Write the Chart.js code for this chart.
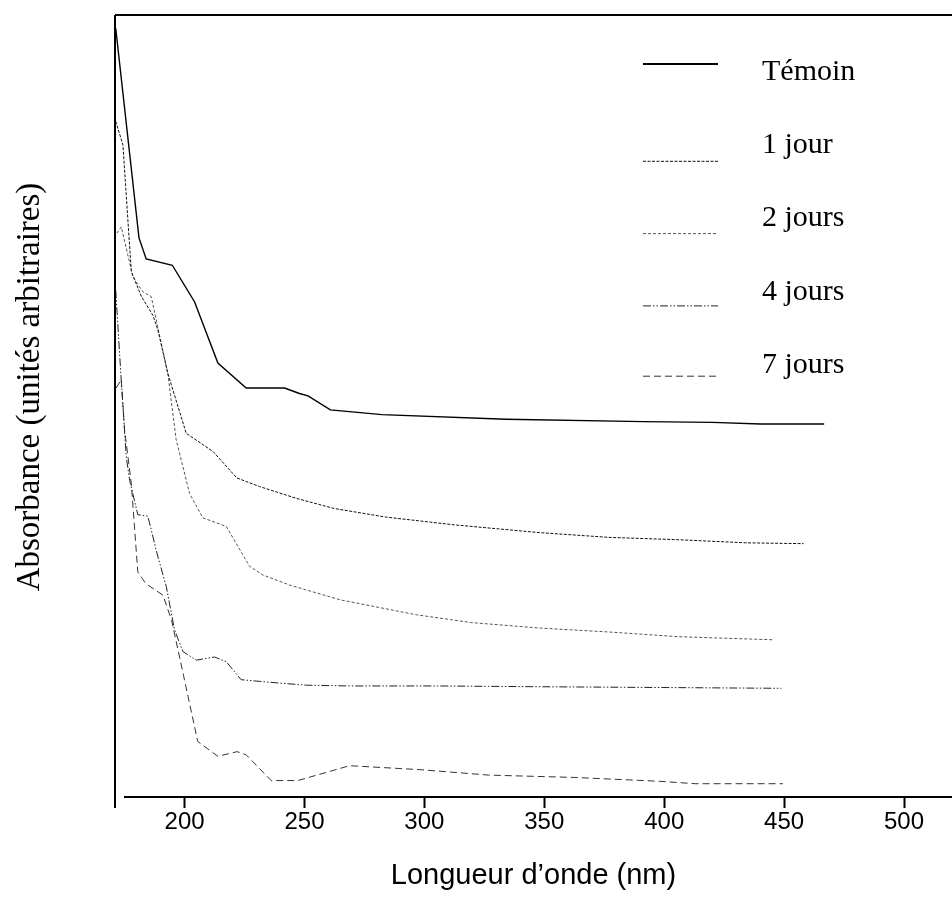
<!DOCTYPE html>
<html lang="fr">
<head>
<meta charset="utf-8">
<title>Absorbance</title>
<script src="https://cdn.jsdelivr.net/npm/chart.js@4.4.1/dist/chart.umd.min.js"></script>
<style>
  html, body { margin: 0; padding: 0; background: #fff; }
  #wrap { position: relative; width: 952px; height: 899px; }
</style>
</head>
<body>
<div id="wrap"><canvas id="spectres"></canvas></div>
<script>
// spectres UV : longueur d'onde (nm) et absorbance (unités arbitraires)
const xTicks = [200, 250, 300, 350, 400, 450, 500];

const temoinNm  = [171.3, 181.0, 184.0, 194.9, 204.2, 213.9, 225.7, 241.7, 247.9, 251.5, 260.8, 282.3, 334.0, 391.4, 420.1, 440.2, 466.7];
const temoinAbs = [0.983, 0.715, 0.688, 0.680, 0.633, 0.555, 0.523, 0.523, 0.516, 0.513, 0.495, 0.489, 0.483, 0.480, 0.479, 0.477, 0.477];

const jour1Nm  = [171.3, 174.3, 177.8, 182.0, 186.8, 188.9, 193.0, 200.7, 211.8, 221.8, 231.3, 246.5, 262.3, 283.8, 312.5, 348.3, 377.0, 405.8, 434.5, 458.1];
const jour1Abs = [0.864, 0.834, 0.672, 0.640, 0.616, 0.597, 0.542, 0.465, 0.442, 0.408, 0.397, 0.382, 0.369, 0.358, 0.348, 0.338, 0.332, 0.329, 0.325, 0.324];

const jour2Nm  = [171.8, 173.6, 178.5, 182.6, 186.1, 188.9, 193.0, 196.5, 202.1, 207.6, 217.4, 227.1, 232.6, 243.8, 265.1, 296.7, 319.7, 348.3, 377.0, 405.8, 445.9];
const jour2Abs = [0.721, 0.729, 0.665, 0.646, 0.640, 0.600, 0.542, 0.457, 0.388, 0.357, 0.346, 0.295, 0.284, 0.271, 0.252, 0.233, 0.223, 0.216, 0.211, 0.205, 0.201];

const jour4Nm  = [171.3, 173.6, 175.7, 177.1, 180.5, 184.7, 188.9, 192.4, 195.8, 199.3, 204.9, 212.5, 217.4, 223.6, 238.2, 250.7, 268.8, 305.3, 348.3, 398.6, 448.8];
const jour4Abs = [0.648, 0.533, 0.435, 0.405, 0.361, 0.359, 0.307, 0.269, 0.214, 0.186, 0.175, 0.179, 0.173, 0.150, 0.146, 0.143, 0.142, 0.142, 0.141, 0.140, 0.139];

const jour7Nm  = [171.5, 173.6, 175.0, 177.8, 180.5, 183.8, 191.0, 194.6, 199.6, 205.5, 213.9, 221.9, 225.7, 236.1, 247.2, 268.8, 298.1, 326.8, 362.7, 398.6, 412.9, 449.5];
const jour7Abs = [0.523, 0.534, 0.469, 0.401, 0.288, 0.273, 0.258, 0.226, 0.155, 0.071, 0.052, 0.058, 0.054, 0.021, 0.021, 0.040, 0.035, 0.028, 0.025, 0.020, 0.017, 0.017];

const pairs = (xs, ys) => xs.map((x, i) => ({ x: x, y: ys[i] }));

function serie(label, xs, ys, dash, color, width, legendWidth) {
    return {
        label: label,
        data: pairs(xs, ys),
        borderColor: color,
        borderWidth: width,
        borderDash: dash,
        legendWidth: legendWidth,
        pointRadius: 0,
        tension: 0,
        fill: false
    };
}

const serif = '"Liberation Serif", "Times New Roman", serif';
const sans = '"Liberation Sans", Arial, sans-serif';

// cadre : trait du haut, axe vertical qui descend sous l'axe des x
const cadre = {
    id: 'cadre',
    afterDraw(chart) {
        const { ctx, chartArea: a } = chart;
        ctx.save();
        ctx.strokeStyle = '#000';
        ctx.lineWidth = 2;
        ctx.beginPath();
        ctx.moveTo(a.left, a.top);
        ctx.lineTo(a.right, a.top);
        ctx.moveTo(a.left, a.top);
        ctx.lineTo(a.left, a.bottom + 11);
        ctx.moveTo(a.left + 9, a.bottom);
        ctx.lineTo(a.right, a.bottom);
        ctx.stroke();

        // titre de l'axe vertical
        ctx.fillStyle = '#000';
        ctx.font = '33px ' + serif;
        ctx.textAlign = 'center';
        ctx.textBaseline = 'middle';
        ctx.translate(30, 387);
        ctx.rotate(-Math.PI / 2);
        ctx.fillText('Absorbance (unités arbitraires)', 0, 0);
        ctx.restore();
    }
};

// légende dans le coin haut droit, trait à gauche du libellé
const legende = {
    id: 'legende',
    afterDatasetsDraw(chart) {
        const ctx = chart.ctx;
        const decalage = [-8, 16, 15, 14, 11];
        ctx.save();
        ctx.font = '30px ' + serif;
        ctx.textBaseline = 'middle';
        ctx.textAlign = 'left';
        chart.data.datasets.forEach((ds, i) => {
            const yTexte = 72 + 73.3 * i;
            const yTrait = yTexte + decalage[i];
            ctx.strokeStyle = ds.borderColor;
            ctx.lineWidth = ds.legendWidth;
            ctx.setLineDash(ds.borderDash);
            ctx.beginPath();
            ctx.moveTo(643, yTrait);
            ctx.lineTo(718, yTrait);
            ctx.stroke();
            ctx.setLineDash([]);
            ctx.fillStyle = '#000';
            ctx.fillText(ds.label, 762, yTexte);
        });
        ctx.restore();
    }
};

new Chart(document.getElementById('spectres'), {
    type: 'line',
    data: {
        datasets: [
            serie('Témoin', temoinNm, temoinAbs, [], '#000', 1.4, 2),
            serie('1 jour', jour1Nm, jour1Abs, [3, 1.5], '#111', 1, 1),
            serie('2 jours', jour2Nm, jour2Abs, [3, 2], '#555', 1, 1),
            serie('4 jours', jour4Nm, jour4Abs, [8, 2, 1.5, 2, 1.5, 2], '#222', 1, 1),
            serie('7 jours', jour7Nm, jour7Abs, [7, 4], '#333', 1, 1)
        ]
    },
    options: {
        maintainAspectRatio: false,
        responsive: true,
        animation: false,
        layout: { padding: { left: 115, top: 15, right: 0, bottom: 0 } },
        plugins: {
            legend: { display: false },
            tooltip: { enabled: false }
        },
        scales: {
            x: {
                type: 'linear',
                min: 171,
                max: 520,
                afterBuildTicks: s => { s.ticks = xTicks.map(v => ({ value: v })); },
                afterFit: s => { s.height = 102; },
                grid: {
                    drawOnChartArea: false,
                    drawTicks: true,
                    tickLength: 11,
                    tickWidth: 2,
                    tickColor: '#000'
                },
                border: { display: false },
                ticks: {
                    color: '#000',
                    padding: 0,
                    maxRotation: 0,
                    font: { family: sans, size: 24 }
                },
                title: {
                    display: true,
                    text: 'Longueur d’onde (nm)',
                    color: '#000',
                    padding: { top: 0, bottom: 6 },
                    font: { family: sans, size: 29 }
                }
            },
            y: {
                display: false,
                min: 0,
                max: 1
            }
        }
    },
    plugins: [cadre, legende]
});
</script>
</body>
</html>
